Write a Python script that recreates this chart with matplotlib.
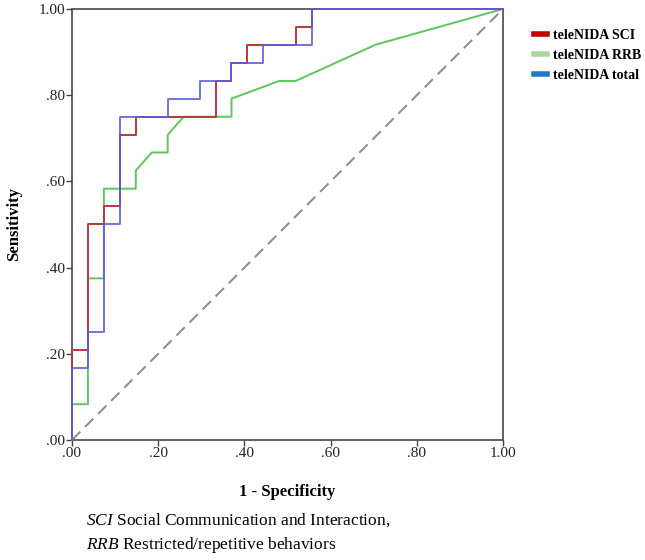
import numpy as np
import matplotlib.pyplot as plt
from matplotlib.lines import Line2D

# ROC curve vertices
sci_fpr = [0, 0, .037, .037, .074, .074, .111, .111, .148, .148, .333, .333, .370, .370,
           .407, .407, .519, .519, .556, .556, 1]
sci_tpr = [0, .208, .208, .500, .500, .542, .542, .708, .708, .750, .750, .833, .833, .875,
           .875, .917, .917, .958, .958, 1, 1]

rrb_fpr = [0, 0, .037, .037, .074, .074, .148, .148, .185, .222, .222, .259, .370, .370,
           .481, .519, .704, 1]
rrb_tpr = [0, .083, .083, .375, .375, .583, .583, .625, .667, .667, .708, .750, .750, .792,
           .833, .833, .917, 1]

tot_fpr = [0, 0, .037, .037, .074, .074, .111, .111, .222, .222, .296, .296, .370, .370,
           .444, .444, .556, .556, 1]
tot_tpr = [0, .167, .167, .250, .250, .500, .500, .750, .750, .792, .792, .833, .833, .875,
           .875, .917, .917, 1, 1]

ticks = [0, .2, .4, .6, .8, 1.0]
tick_labels = ['.00', '.20', '.40', '.60', '.80', '1.00']
legend_names = ['teleNIDA SCI', 'teleNIDA RRB', 'teleNIDA total']

plt.rcParams['font.family'] = ['Liberation Serif', 'DejaVu Serif']
plt.rcParams['mathtext.fontset'] = 'custom'
plt.rcParams['mathtext.rm'] = 'Liberation Serif'
plt.rcParams['mathtext.it'] = 'Liberation Serif:italic'

fig = plt.figure(figsize=(6.45, 5.6), dpi=100)
ax = fig.add_axes([0.1116, 0.2143, 0.6684, 0.7697])

for s in ax.spines.values():
    s.set_color('#555555')
    s.set_linewidth(1.3)
    s.set_zorder(0.5)

ax.plot([0, 1], [0, 1], color='#8a8a8a', lw=1.4, dashes=(6, 3.5), zorder=1)
ax.plot(rrb_fpr, rrb_tpr, color='#5cc65c', lw=1.4, zorder=2, clip_on=False)
ax.plot(sci_fpr, sci_tpr, color='#b83a3a', lw=1.4, zorder=3, clip_on=False)
ax.plot(tot_fpr, tot_tpr, color='#5a5ae8', lw=1.4, alpha=0.85, zorder=4, clip_on=False)

ax.set_xlim(0, 1)
ax.set_ylim(0, 1)
ax.set_xticks(ticks)
ax.set_xticklabels(tick_labels)
ax.set_yticks(ticks)
ax.set_yticklabels(tick_labels)
ax.tick_params(direction='out', length=4, width=1, colors='#444444',
               labelcolor='#222222', labelsize=11, pad=1)

ax.set_xlabel('1 - Specificity', fontsize=12, fontweight='bold', labelpad=17)
ax.set_ylabel('Sensitivity', fontsize=12, fontweight='bold', labelpad=12)

handles = [Line2D([], [], color=c, lw=4) for c in ['#c00000', '#a6d89e', '#1f78c8']]
fig.legend(handles, legend_names, loc='upper left', bbox_to_anchor=(0.82, 0.958),
           frameon=False, handlelength=0.9, handletextpad=0.4, labelspacing=0.5,
           borderpad=0.2, borderaxespad=0.2, prop={'weight': 'bold', 'size': 10})

fig.text(0.133, 0.071, '$\\it{SCI}$ Social Communication and Interaction,', fontsize=12.5,
         va='center')
fig.text(0.133, 0.027, '$\\it{RRB}$ Restricted/repetitive behaviors', fontsize=12.5,
         va='center')

fig.savefig('out.png', dpi=100)
